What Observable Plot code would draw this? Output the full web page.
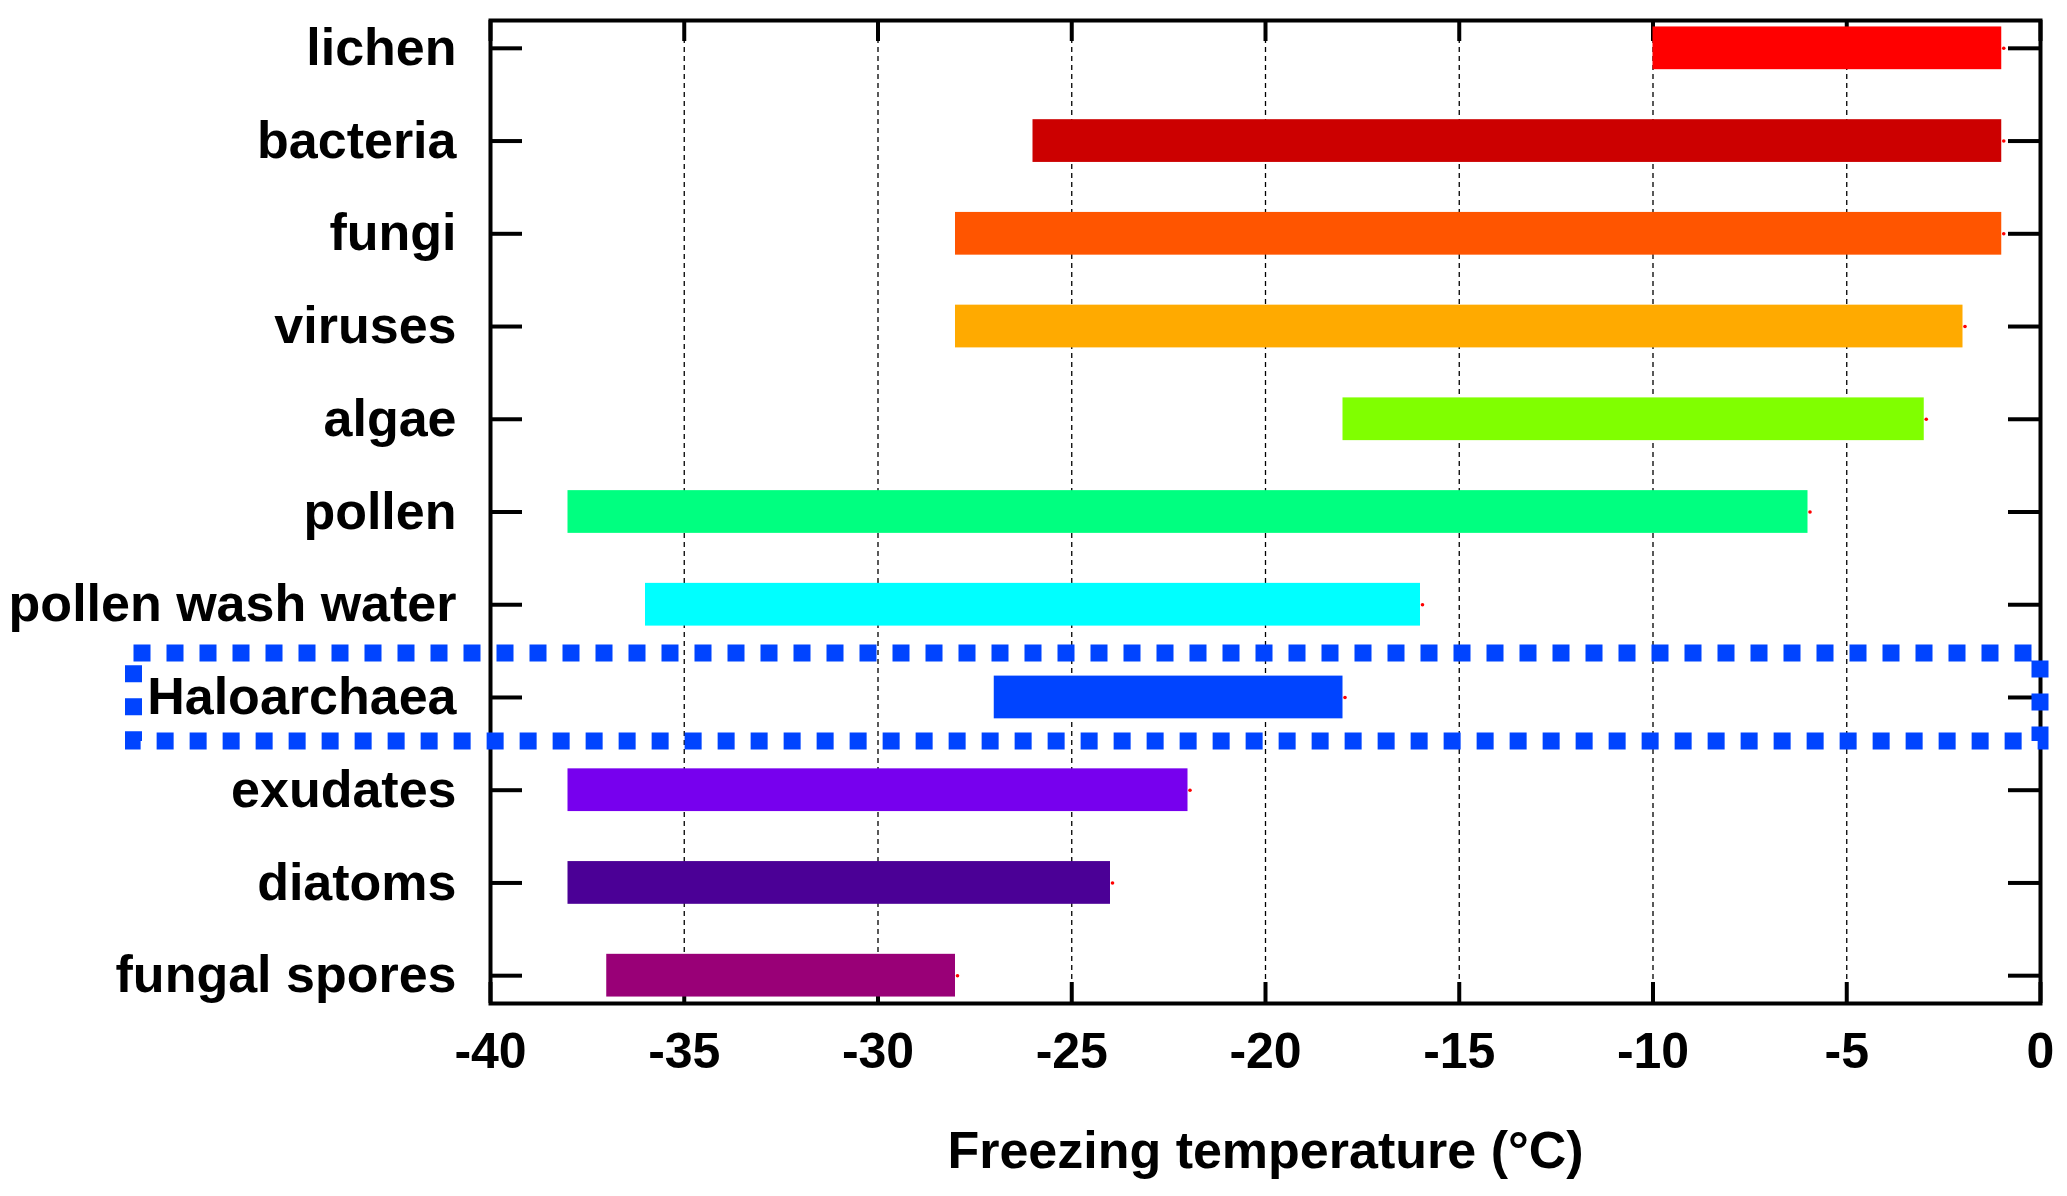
<!DOCTYPE html>
<html>
<head>
<meta charset="utf-8">
<script src="https://cdn.jsdelivr.net/npm/d3@7"></script>
<script src="https://cdn.jsdelivr.net/npm/@observablehq/plot@0.6"></script>
<style>
  body { margin: 0; background: #fff; }
</style>
</head>
<body>
<div id="chart"></div>
<script>
// fuentes de nucleación de hielo, de arriba hacia abajo
const sources = ["lichen", "bacteria", "fungi", "viruses", "algae", "pollen",
  "pollen wash water", "Haloarchaea", "exudates", "diatoms", "fungal spores"]
// rango de temperatura de congelamiento (°C)
const coldest = [-10, -26, -28, -28, -18, -38, -36, -27, -38, -38, -37]
const warmest = [-1, -1, -1, -2, -3, -6, -16, -18, -22, -24, -28]
const colors = ["#ff0000", "#cc0000", "#ff5500", "#ffaa00", "#80ff00", "#00ff80",
  "#00ffff", "#0044ff", "#7700ee", "#4b0096", "#990077"]
const xTicks = [-40, -35, -30, -25, -20, -15, -10, -5, 0]
const gridTicks = [-35, -30, -25, -20, -15, -10, -5]
// recuadro punteado que resalta Haloarchaea
const highlight = [{source: "Haloarchaea", from: -49.2, to: 0}]

const table = sources.map((source, i) => ({source, from: coldest[i], to: warmest[i]}))

const W = 2067, H = 1196
const mL = 490, mR = 27, mT = 20, mB = 193
const frameW = W - mL - mR, frameH = H - mT - mB

let chart = Plot.plot({
  width: W,
  height: H,
  marginLeft: mL,
  marginRight: mR,
  marginTop: mT,
  marginBottom: mB,
  style: {fontFamily: "'Liberation Sans', Arial, sans-serif", fontWeight: "bold", color: "#000", background: "#fff"},
  x: {domain: [-40, 0]},
  y: {domain: sources, paddingInner: 0, paddingOuter: -0.2, round: false},
  color: {domain: sources, range: colors},
  marks: [
    // grilla punteada
    Plot.ruleX(gridTicks, {x: d => d, stroke: "#000", strokeWidth: 1.3, strokeDasharray: "5,4"}),
    // ticks hacia adentro (arriba, abajo, izquierda, derecha)
    Plot.ruleX(xTicks, {x: d => d, stroke: "#000", strokeWidth: 4, insetBottom: frameH - 21}),
    Plot.ruleX(xTicks, {x: d => d, stroke: "#000", strokeWidth: 4, insetTop: frameH - 21}),
    Plot.ruleY(sources, {y: d => d, stroke: "#000", strokeWidth: 4, insetRight: frameW - 32}),
    Plot.ruleY(sources, {y: d => d, stroke: "#000", strokeWidth: 4, insetLeft: frameW - 32}),
    Plot.barX(table, {x1: "from", x2: "to", y: "source", fill: "source", insetTop: 25, insetBottom: 25}),
    Plot.dot(table, {x: "to", y: "source", r: 1.8, fill: "#ff0000", dx: 2}),
    Plot.frame({stroke: "#000", strokeWidth: 4}),
    Plot.barX(highlight, {
      x1: "from", x2: "to", y: "source",
      fill: "none", stroke: "#0044ff", strokeWidth: 17, strokeDasharray: "17,16",
      insetTop: 2.3, insetBottom: 2.3
    }),
    Plot.axisY({tickSize: 0, tickPadding: 34, fontSize: 52, label: null}),
    Plot.axisX({
      ticks: xTicks, tickSize: 0, tickPadding: 29, fontSize: 50, tickFormat: d => String(d),
      label: "Freezing temperature (°C)", labelAnchor: "center", labelArrow: "none", labelOffset: 164
    })
  ]
})

d3.select('#chart').append(() => chart)
// tamaño del título del eje
d3.select(chart).selectAll('[aria-label="x-axis label"] text').style('font-size', '52px')
</script>
</body>
</html>
